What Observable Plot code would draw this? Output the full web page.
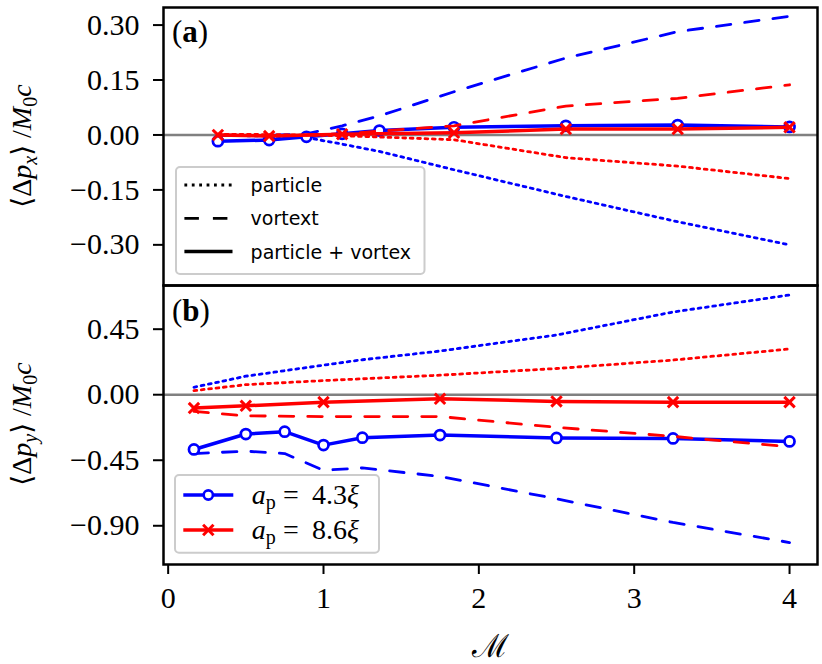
<!DOCTYPE html>
<html><head><meta charset="utf-8">
<script src="https://cdn.jsdelivr.net/npm/d3@7"></script>
<script src="https://cdn.jsdelivr.net/npm/@observablehq/plot@0.6"></script>
<style>
body{margin:0;background:white;}
#wrap{position:relative;width:822px;height:664px;overflow:hidden;}
#wrap svg{position:absolute;left:0;}
</style></head><body><div id="wrap"></div>
<script>
// ---- data ----
const xA     = [0.32, 0.65, 0.89, 1.12, 1.36, 1.84, 2.56, 3.28, 4.0];
const xAred  = [0.32, 0.65, 1.12, 1.84, 2.56, 3.28, 4.0];
const xB     = [0.166, 0.5, 0.75, 1.0, 1.25, 1.75, 2.5, 3.25, 4.0];
const xBred  = [0.166, 0.5, 1.0, 1.75, 2.5, 3.25, 4.0];

// panel (a): <Δp_x>/M0c
const aBlueTotal    = [-0.017, -0.014, -0.005, 0.003, 0.012, 0.021, 0.025, 0.027, 0.022];
const aBlueParticle = [-0.001, -0.003, -0.007, -0.025, -0.045, -0.095, -0.168, -0.237, -0.300];
const aBlueVortex   = [-0.002, -0.001, 0.003, 0.025, 0.052, 0.118, 0.210, 0.282, 0.324];
const aRedTotal     = [0.000, -0.003, 0.002, 0.006, 0.016, 0.016, 0.021];
const aRedParticle  = [0.002, 0.001, -0.002, -0.013, -0.062, -0.085, -0.119];
const aRedVortex    = [0.000, -0.002, 0.003, 0.025, 0.079, 0.100, 0.137];

// panel (b): <Δp_y>/M0c
const bBlueTotal    = [-0.376, -0.270, -0.254, -0.346, -0.295, -0.277, -0.297, -0.300, -0.321];
const bBlueParticle = [0.051, 0.127, 0.165, 0.203, 0.240, 0.300, 0.410, 0.568, 0.685];
const bBlueVortex   = [-0.404, -0.388, -0.404, -0.519, -0.503, -0.561, -0.715, -0.877, -1.015];
const bRedTotal     = [-0.092, -0.076, -0.051, -0.028, -0.046, -0.051, -0.051];
const bRedParticle  = [0.028, 0.069, 0.097, 0.134, 0.180, 0.238, 0.314];
const bRedVortex    = [-0.115, -0.145, -0.150, -0.150, -0.224, -0.286, -0.358];

const xTicks  = [0, 1, 2, 3, 4];
const yTicksA = [-0.30, -0.15, 0.00, 0.15, 0.30];
const yTicksB = [-0.90, -0.45, 0.00, 0.45];
const legendA = ["particle", "vortext", "particle + vortex"];
const legendB = [["4.3", "blue", "circle"], ["8.6", "red", "times"]];

// ---- styles ----
const serif = "'Liberation Serif', 'DejaVu Serif', serif";
const sans = "'DejaVu Sans', sans-serif";
const DOT = "2.8,4.6", DASH = "14.5,14";
const xDomain = [-0.03, 4.18];
const rows = (xs, ys) => xs.map((x, i) => ({x, y: ys[i]}));

function seriesMarks(xb, xr, bt, bp, bv, rt, rp, rv) {
  return [
    Plot.ruleY([0], {stroke: "#808080", strokeWidth: 2.5}),
    Plot.line(rows(xb, bp), {x: "x", y: "y", stroke: "blue", strokeWidth: 2.8, strokeDasharray: DOT}),
    Plot.line(rows(xb, bv), {x: "x", y: "y", stroke: "blue", strokeWidth: 2.8, strokeDasharray: DASH}),
    Plot.line(rows(xb, bt), {x: "x", y: "y", stroke: "blue", strokeWidth: 3.5}),
    Plot.dot(rows(xb, bt), {x: "x", y: "y", r: 5, stroke: "blue", strokeWidth: 2.7, fill: "white"}),
    Plot.line(rows(xr, rp), {x: "x", y: "y", stroke: "red", strokeWidth: 2.8, strokeDasharray: DOT}),
    Plot.line(rows(xr, rv), {x: "x", y: "y", stroke: "red", strokeWidth: 2.8, strokeDasharray: DASH}),
    Plot.line(rows(xr, rt), {x: "x", y: "y", stroke: "red", strokeWidth: 3.5}),
    Plot.dot(rows(xr, rt), {x: "x", y: "y", symbol: "times", r: 4.8, stroke: "red", strokeWidth: 3})
  ];
}

const topPlot = Plot.plot({
  width: 822, height: 290, marginTop: 7, marginBottom: 5, marginLeft: 163, marginRight: 5,
  style: {background: "transparent", fontFamily: serif, overflow: "visible", color: "black"},
  x: {domain: xDomain, axis: null},
  y: {domain: [-0.411, 0.348]},
  marks: [
    ...seriesMarks(xA, xAred, aBlueTotal, aBlueParticle, aBlueVortex, aRedTotal, aRedParticle, aRedVortex),
    Plot.axisY({ticks: yTicksA, tickFormat: d3.format(".2f"), tickSize: 10, tickPadding: 14,
      fontSize: 30, fontFamily: serif, strokeWidth: 2, label: null}),
    Plot.frame({stroke: "black", strokeWidth: 2.5})
  ]
});

const botPlot = Plot.plot({
  width: 822, height: 384, marginTop: 5, marginBottom: 100, marginLeft: 163, marginRight: 5,
  style: {background: "transparent", fontFamily: serif, overflow: "visible", color: "black"},
  x: {domain: xDomain},
  y: {domain: [-1.166, 0.75]},
  marks: [
    ...seriesMarks(xB, xBred, bBlueTotal, bBlueParticle, bBlueVortex, bRedTotal, bRedParticle, bRedVortex),
    Plot.axisY({ticks: yTicksB, tickFormat: d3.format(".2f"), tickSize: 10, tickPadding: 14,
      fontSize: 30, fontFamily: serif, strokeWidth: 2, label: null}),
    Plot.axisX({ticks: xTicks, tickFormat: d3.format("d"), tickSize: 10, tickPadding: 12,
      fontSize: 30, fontFamily: serif, strokeWidth: 2, label: null}),
    Plot.frame({stroke: "black", strokeWidth: 2.5})
  ]
});

const wrap = document.getElementById("wrap");
topPlot.style.top = "0px";
botPlot.style.top = "280px";
wrap.appendChild(topPlot);
wrap.appendChild(botPlot);

// ---- annotations ----
function panelLabel(svg, letter, x, y) {
  const t = d3.select(svg).append("text").attr("x", x).attr("y", y).attr("text-anchor", "start")
    .attr("font-family", serif).attr("font-size", 31).attr("fill", "black");
  t.append("tspan").text("(");
  t.append("tspan").attr("font-weight", "bold").text(letter);
  t.append("tspan").text(")");
}
panelLabel(topPlot, "a", 172, 42);
panelLabel(botPlot, "b", 172, 41);

function yLabel(svg, sub, cy) {
  const t = d3.select(svg).append("text")
    .attr("transform", `translate(31,${cy}) rotate(-90)`)
    .attr("text-anchor", "middle").attr("font-family", serif).attr("font-size", 28).attr("fill", "black");
  t.append("tspan").text("⟨Δ");
  t.append("tspan").attr("font-style", "italic").text("p");
  t.append("tspan").attr("font-style", "italic").attr("font-size", 20).attr("dy", 6).text(sub);
  t.append("tspan").attr("dy", -6).text("⟩ /");
  t.append("tspan").attr("font-style", "italic").text("M");
  t.append("tspan").attr("font-size", 20).attr("dy", 6).text("0");
  t.append("tspan").attr("dy", -6).attr("font-style", "italic").text("c");
}
yLabel(topPlot, "x", 146);
yLabel(botPlot, "y", 144);

d3.select(botPlot).append("text").attr("x", 490).attr("y", 377)
  .attr("text-anchor", "middle").attr("font-family", "'DejaVu Serif', serif").attr("font-size", 32)
  .attr("fill", "black").text("ℳ");

// legend (a)
{
  const g = d3.select(topPlot).append("g").attr("text-anchor", "start");
  g.append("rect").attr("x", 176).attr("y", 167).attr("width", 248.5).attr("height", 107)
    .attr("rx", 4).attr("fill", "white").attr("fill-opacity", 0.8)
    .attr("stroke", "#cccccc").attr("stroke-width", 2);
  const dashes = [DOT, DASH, null];
  const widths = [2.8, 2.8, 3.5];
  legendA.forEach((lab, i) => {
    const y = 185 + i * 33.3;
    const l = g.append("line").attr("x1", 184.4).attr("x2", 232.5).attr("y1", y).attr("y2", y)
      .attr("stroke", "black").attr("stroke-width", widths[i]);
    if (dashes[i]) l.attr("stroke-dasharray", dashes[i]);
    g.append("text").attr("x", 250.6).attr("y", y + 7).attr("font-family", sans)
      .attr("font-size", 19).attr("fill", "black").text(lab);
  });
}

// legend (b)
{
  const g = d3.select(botPlot).append("g").attr("text-anchor", "start");
  g.append("rect").attr("x", 175).attr("y", 195).attr("width", 204).attr("height", 77.7)
    .attr("rx", 4).attr("fill", "white").attr("fill-opacity", 0.8)
    .attr("stroke", "#cccccc").attr("stroke-width", 2);
  legendB.forEach(([val, col, sym], i) => {
    const y = 215 + i * 35;
    g.append("line").attr("x1", 183.3).attr("x2", 233.3).attr("y1", y).attr("y2", y)
      .attr("stroke", col).attr("stroke-width", 3.5);
    if (sym === "circle") {
      g.append("circle").attr("cx", 208.3).attr("cy", y).attr("r", 4.6)
        .attr("fill", "white").attr("stroke", col).attr("stroke-width", 2.6);
    } else {
      g.append("path").attr("transform", `translate(208.3,${y})`)
        .attr("d", d3.symbol(d3.symbolTimes, Math.PI * 4.8 * 4.8)())
        .attr("fill", "none").attr("stroke", col).attr("stroke-width", 3);
    }
    const t = g.append("text").attr("x", 251.7).attr("y", y + 9).attr("font-family", serif)
      .attr("font-size", 28).attr("fill", "black");
    t.append("tspan").attr("font-style", "italic").text("a");
    t.append("tspan").attr("font-size", 20).attr("dy", 5).text("p");
    t.append("tspan").attr("dy", -5).attr("x", 283).text("=");
    t.append("tspan").attr("x", 312).text(val);
    t.append("tspan").attr("font-style", "italic").text("ξ");
  });
}
</script></body></html>
